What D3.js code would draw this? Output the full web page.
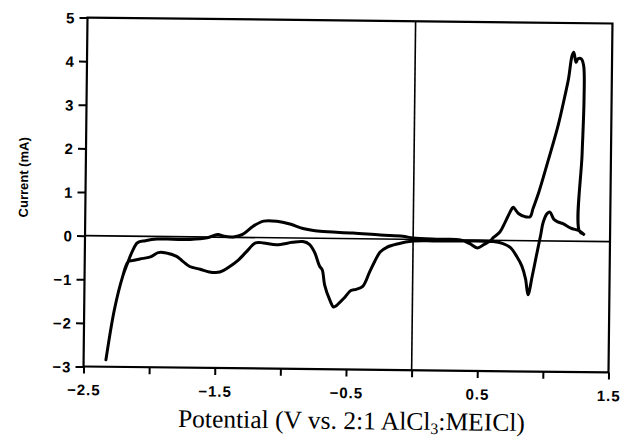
<!DOCTYPE html>
<html>
<head>
<meta charset="utf-8">
<script src="https://cdn.jsdelivr.net/npm/d3@7"></script>
<style>
  body { margin: 0; background: #fff; }
  .tick text { font: bold 15px "Liberation Sans", Arial, sans-serif; letter-spacing: 1px; fill: #000; }
</style>
</head>
<body>
<div id="chart"></div>
<script>
// potential (V) and current (mA), in drawing order
const potential = [
  1.30, 1.265, 1.20, 1.14, 1.10, 1.07, 1.04, 1.02, 0.99, 0.97, 0.94, 0.91, 0.88, 0.86, 0.83, 0.79, 0.74, 0.68, 0.61,
  0.45, 0.30, 0.15, 0.00, -0.12, -0.20, -0.25, -0.29, -0.33, -0.38, -0.43, -0.47, -0.52, -0.58, -0.60, -0.63, -0.67,
  -0.69, -0.71, -0.75, -0.79, -0.84, -0.92, -1.04, -1.14, -1.20, -1.27, -1.33, -1.40, -1.47, -1.55, -1.62, -1.70,
  -1.75, -1.80, -1.89, -1.94, -2.00, -2.08, -2.14, -2.17, -2.21, -2.27, -2.33,
  -2.27, -2.21, -2.17, -2.14, -2.10, -2.04, -1.95, -1.83, -1.70, -1.57, -1.49, -1.44, -1.37, -1.30, -1.22, -1.14,
  -1.04, -0.94, -0.84, -0.71, -0.46, -0.25, -0.08, 0.00, 0.20, 0.36, 0.43, 0.49, 0.54, 0.59, 0.61, 0.66, 0.70, 0.75,
  0.76, 0.80, 0.85, 0.89, 0.91, 0.954, 1.018, 1.094, 1.144, 1.17, 1.195, 1.208, 1.226, 1.24, 1.266, 1.284, 1.29,
  1.28, 1.265, 1.30
];
const current = [
  0.16, 0.24, 0.30, 0.40, 0.44, 0.50, 0.66, 0.63, 0.43, 0.11, -0.35, -0.82, -1.24, -0.88, -0.58, -0.36, -0.16, -0.07, -0.03,
  -0.02, -0.03, -0.03, -0.04, -0.11, -0.19, -0.30, -0.51, -0.77, -1.09, -1.16, -1.19, -1.36, -1.54, -1.57, -1.41, -1.07,
  -0.72, -0.64, -0.32, -0.14, -0.08, -0.10, -0.16, -0.12, -0.12, -0.33, -0.52, -0.68, -0.80, -0.80, -0.74, -0.68,
  -0.57, -0.45, -0.37, -0.37, -0.47, -0.52, -0.56, -0.59, -0.93, -1.69, -2.84,
  -1.69, -0.93, -0.59, -0.36, -0.15, -0.10, -0.06, -0.06, -0.06, -0.02, 0.06, 0.02, 0.01, 0.07, 0.26, 0.38,
  0.38, 0.32, 0.22, 0.16, 0.13, 0.09, 0.07, 0.03, 0.01, 0.00, -0.08, -0.18, -0.10, -0.01, 0.06, 0.19, 0.42, 0.73,
  0.76, 0.62, 0.55, 0.55, 0.73, 1.12, 1.80, 2.64, 3.33, 3.72, 4.25, 4.33, 4.10, 4.18, 4.18, 4.03, 3.26,
  2.00, 0.24, 0.16
];

const xTicks = [-2.5, -2, -1.5, -1, -0.5, 0, 0.5, 1, 1.5];
const xTickLabels = ['\u22122.5', '', '\u22121.5', '', '\u22120.5', '', '0.5', '', '1.5'];
const yTicks = [-3, -2, -1, 0, 1, 2, 3, 4, 5];
const yTickLabels = ['\u22123', '\u22122', '\u22121', '0', '1', '2', '3', '4', '5'];

const width = 623, height = 439;
const plot = {left: 85.5, right: 610.5, top: 20.5, bottom: 369.5};

const svg = d3.select('#chart')
  .append('svg')
  .attr('width', width)
  .attr('height', height);

// the original scan is turned a little clockwise
const g = svg.append('g')
  .attr('transform', 'rotate(0.65, 348, 195)');

const x = d3.scaleLinear().domain([-2.5, 1.5]).range([plot.left, plot.right]);
const y = d3.scaleLinear().domain([-3, 5]).range([plot.bottom, plot.top]);

// x axis
g.append('g')
  .attr('transform', `translate(0, ${plot.bottom})`)
  .call(d3.axisBottom(x)
    .tickValues(xTicks)
    .tickFormat((d, i) => xTickLabels[i])
    .tickSize(7)
    .tickSizeOuter(0)
    .tickPadding(11))
  .call(a => a.select('.domain').remove())
  .call(a => a.selectAll('.tick line').attr('stroke-width', 2));

// y axis
g.append('g')
  .attr('transform', `translate(${plot.left}, 0)`)
  .call(d3.axisLeft(y)
    .tickValues(yTicks)
    .tickFormat((d, i) => yTickLabels[i])
    .tickSize(8)
    .tickSizeOuter(0)
    .tickPadding(4))
  .call(a => a.select('.domain').remove())
  .call(a => a.selectAll('.tick line').attr('stroke-width', 2))
  .call(a => a.selectAll('.tick text').attr('dy', '0.36em'));

// frame
g.append('rect')
  .attr('x', plot.left)
  .attr('y', plot.top)
  .attr('width', plot.right - plot.left)
  .attr('height', plot.bottom - plot.top)
  .attr('fill', 'none')
  .attr('stroke', '#000')
  .attr('stroke-width', 2.2);

// zero lines
g.append('line')
  .attr('x1', plot.left).attr('x2', plot.right)
  .attr('y1', y(0)).attr('y2', y(0))
  .attr('stroke', '#000').attr('stroke-width', 1.6);
g.append('line')
  .attr('x1', x(0)).attr('x2', x(0))
  .attr('y1', plot.top).attr('y2', plot.bottom)
  .attr('stroke', '#000').attr('stroke-width', 1.6);

// the voltammogram
const points = potential.map((v, i) => [v, current[i]]);
g.append('path')
  .datum(points)
  .attr('d', d3.line()
    .x(d => x(d[0]))
    .y(d => y(d[1]))
    .curve(d3.curveCatmullRom.alpha(0.5)))
  .attr('fill', 'none')
  .attr('stroke', '#000')
  .attr('stroke-width', 3)
  .attr('stroke-linejoin', 'round')
  .attr('stroke-linecap', 'round');

// axis titles
g.append('text')
  .attr('transform', 'translate(28, 181) rotate(-90)')
  .attr('text-anchor', 'middle')
  .style('font', 'bold 13px "Liberation Sans", Arial, sans-serif')
  .text('Current (mA)');

const title = g.append('text')
  .attr('x', 354)
  .attr('y', 429)
  .attr('text-anchor', 'middle')
  .style('font', '25.5px "Liberation Serif", "Times New Roman", serif');
title.append('tspan').text('Potential (V vs. 2:1 AlCl');
title.append('tspan').attr('font-size', '16px').attr('dy', 4).text('3');
title.append('tspan').attr('dy', -4).text(':MEICl)');
</script>
</body>
</html>
